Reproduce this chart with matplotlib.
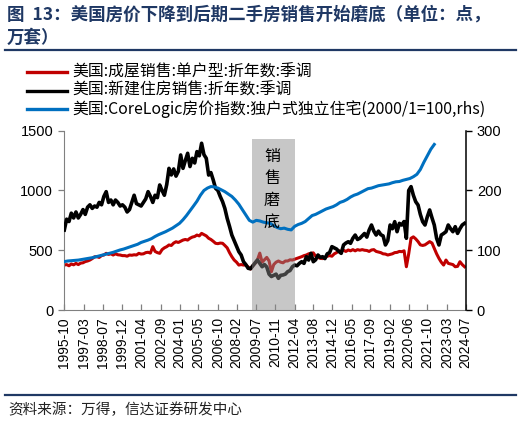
import matplotlib
matplotlib.use('Agg')
import matplotlib.pyplot as plt
import pandas as pd
from matplotlib.lines import Line2D

plt.rcParams['font.family'] = ['Noto Sans CJK SC', 'DejaVu Sans']

# ---------------- data ----------------
# bimonthly values starting 1995-10 (left axis)
existing_sales = [
    376, 380,
    370, 385, 378, 390, 380, 392,
    395, 405, 410, 418, 430, 445,
    446, 440, 455, 460, 474, 465,
    470, 460, 470, 462, 460, 455,
    455, 450, 460, 458, 462, 460,
    474, 468, 470, 480, 483, 476,
    530, 490, 480, 474, 505, 520,
    530, 544, 540, 560, 571, 565,
    575, 585, 590, 585, 600, 610,
    615, 627, 620, 641, 630, 620,
    600, 590, 575, 558, 555, 560,
    558, 540, 520, 480, 446, 418,
    400, 376, 380, 376, 376, 360,
    343, 370, 390, 420, 476, 400,
    420, 440, 410, 320, 380, 400,
    410, 400, 395, 410, 410, 420,
    418, 425, 432, 440, 446, 455,
    460, 470, 474, 478, 450, 440,
    432, 430, 440, 450, 455, 450,
    470, 480, 495, 490, 500, 490,
    502, 495, 505, 495, 505, 500,
    505, 500, 498, 490, 502, 505,
    490, 485, 480, 470, 468, 460,
    465, 470, 480, 482, 490, 488,
    495, 362, 470, 600, 612, 595,
    572, 545, 540, 545, 558, 572,
    560, 516, 470, 432, 400, 376,
    418, 390, 385, 380, 362, 365,
    404, 380, 362,
]
new_home_sales = [
    669, 760,
    740, 810, 770, 820, 770, 800,
    840, 800, 860, 880, 850, 870,
    860, 900, 880, 950, 990, 900,
    920, 880, 920, 900, 870, 880,
    860, 820, 840, 900, 960, 890,
    880, 870, 900, 930, 990, 950,
    900, 960, 940, 1046, 1000, 960,
    1050, 1185, 1130, 1180, 1120, 1160,
    1297, 1185, 1250, 1311, 1200, 1269,
    1230, 1325, 1290, 1395, 1300, 1269,
    1129, 1150, 1088, 1018, 1000, 950,
    906, 850, 767, 700, 627, 580,
    530, 488, 460, 404, 380, 349,
    345, 370, 395, 418, 390, 362,
    380, 360, 300, 280, 290, 300,
    265, 290, 293, 300, 321, 330,
    362, 376, 370, 390, 404, 390,
    446, 418, 474, 404, 420, 460,
    440, 446, 430, 470, 480, 530,
    520, 510, 490, 474, 544, 560,
    571, 558, 600, 627, 590, 600,
    620, 640, 610, 669, 711, 660,
    627, 660, 630, 620, 544, 580,
    711, 680, 739, 655, 725, 711,
    740, 600, 1000, 1032, 960, 906,
    878, 800, 739, 711, 780, 837,
    770, 711, 600, 544, 627, 640,
    655, 711, 680, 655, 697, 641,
    680, 711, 725,
]
# quarterly values starting 1995-10 (right axis, 2000/1=100)
corelogic_hpi = [
    81,
    82, 82.5, 83, 83.5,
    84.5, 85.5, 86.5, 87.5,
    89, 90.5, 92, 93.5,
    95, 96.5, 98.5, 100.5,
    102, 104, 106, 108,
    110, 113, 115, 117,
    119.5, 123, 126, 128.5,
    131, 134, 137, 141,
    145, 151, 158, 166,
    174, 182, 192, 200,
    204, 206.5, 206, 204,
    201, 198, 194, 190,
    184, 177, 168, 159,
    150, 147, 150, 149,
    147, 146, 145, 141,
    138, 136, 137, 135,
    134, 140, 143, 145,
    148, 153, 158, 160,
    163, 166, 169, 171,
    173, 176, 180, 182,
    185, 189, 192, 194,
    197, 200, 203, 204,
    206, 208, 209, 210,
    211, 213, 214.5, 215,
    217, 218.5, 220, 223,
    227, 235, 247, 258,
    269, 277,
]
tick_labels = ['1995-10', '1997-03', '1998-07', '1999-12', '2001-04', '2002-09',
               '2004-01', '2005-05', '2006-10', '2008-02', '2009-07', '2010-11',
               '2012-04', '2013-08', '2014-12', '2016-05', '2017-09', '2019-02',
               '2020-06', '2021-10', '2023-03', '2024-07']
shade_period = ['2009-03', '2012-04']
legend_labels = ['美国:成屋销售:单户型:折年数:季调',
                 '美国:新建住房销售:折年数:季调',
                 '美国:CoreLogic房价指数:独户式独立住宅(2000/1=100,rhs)']

dates_bi = pd.date_range('1995-10-01', periods=len(new_home_sales), freq='2MS')
dates_q = pd.date_range('1995-10-01', periods=len(corelogic_hpi), freq='3MS')

W, H = 521, 425
fig = plt.figure(figsize=(W / 100, H / 100), dpi=100)

def fx(x):
    return x / W

def fy(y):
    return 1 - y / H

NAVY = '#1F3864'
RED = '#C00000'
BLUE = '#0070C0'

ax = fig.add_axes([fx(64.3), fy(310), (465.7 - 64.3) / W, (310 - 130.7) / H])
ax.plot(dates_bi, existing_sales, color=RED, lw=2.2, zorder=2)
ax.plot(dates_bi, new_home_sales, color='black', lw=2.6, zorder=3)
ax.axvspan(pd.Timestamp(shade_period[0]), pd.Timestamp(shade_period[1]),
           ymin=0, ymax=0.954, color='#898989', alpha=0.47, lw=0, zorder=4)
ax.set_ylim(0, 1500)
ax.set_yticks([0, 500, 1000, 1500])
ax.set_xlim(pd.Timestamp('1995-10-01'), pd.Timestamp('2024-07-01'))
ax.set_xticks(pd.to_datetime(tick_labels))
ax.set_xticklabels(tick_labels, rotation=90, fontsize=10, family='Liberation Sans')
for lab in ax.get_yticklabels():
    lab.set_family('Liberation Sans')
    lab.set_fontsize(10.5)
ax.tick_params(axis='y', direction='out', length=4, width=0.9, color='#808080', pad=4)
ax.tick_params(axis='x', direction='in', length=4, width=0.9, color='#808080', pad=5)
ax.spines['top'].set_visible(False)
ax.spines['right'].set_visible(False)
ax.spines['left'].set_color('#808080')
ax.spines['bottom'].set_color('#808080')

ax2 = ax.twinx()
ax2.plot(dates_q, corelogic_hpi, color=BLUE, lw=2.2, zorder=5)
ax2.set_ylim(0, 300)
ax2.set_yticks([0, 100, 200, 300])
for lab in ax2.get_yticklabels():
    lab.set_family('Liberation Sans')
    lab.set_fontsize(10.5)
ax2.tick_params(axis='y', direction='out', length=4, width=1.0, color='black', pad=4)
for s in ['top', 'left', 'bottom']:
    ax2.spines[s].set_visible(False)
ax2.spines['right'].set_color('black')
ax2.spines['right'].set_linewidth(1.1)

# shaded-region label
for ch, yy in zip('销售磨底', [157, 179, 200, 222]):
    fig.text(fx(272), fy(yy), ch, fontsize=11.5, ha='center', va='center', color='black')

# title
fig.text(fx(7), fy(15), '图  13：美国房价下降到后期二手房销售开始磨底（单位：点，',
         fontsize=12.6, fontweight='bold', color=NAVY, va='center', ha='left')
fig.text(fx(7), fy(38), '万套）', fontsize=12.6, fontweight='bold', color=NAVY,
         va='center', ha='left')
fig.add_artist(Line2D([fx(5), fx(516)], [fy(50), fy(50)], color=NAVY, lw=1.6))

# legend
for lab, col, yy in zip(legend_labels, [RED, 'black', BLUE], [72, 90.5, 109]):
    fig.add_artist(Line2D([fx(27), fx(67)], [fy(yy), fy(yy)], color=col, lw=2.4))
    fig.text(fx(72), fy(yy), lab, fontsize=11.4, va='center', ha='left', color='black')

# source
fig.add_artist(Line2D([fx(5), fx(516)], [fy(395), fy(395)], color=NAVY, lw=1.6))
fig.text(fx(8), fy(410), '资料来源：万得，信达证券研发中心', fontsize=10.5,
         va='center', ha='left', color='#222222')

fig.savefig('out.png', dpi=100)
